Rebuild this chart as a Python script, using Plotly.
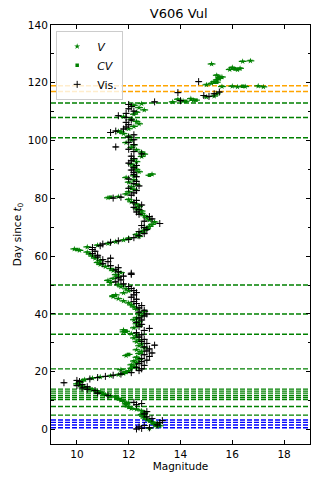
import plotly.graph_objects as go

# V band photometry (day since t0, magnitude)
v_day = [0.5, 1.0, 1.3, 1.8, 2.2, 2.6, 3.0, 3.5, 4.0, 4.6, 5.2, 5.8, 6.5, 7.0, 7.3, 7.8, 8.5, 9.3, 9.8,
         10.2, 10.7, 11.2, 11.6, 12.0, 12.4, 12.8, 13.3, 13.7, 14.2, 14.6, 15.0, 15.4, 15.8, 16.3, 16.8,
         17.3, 17.8, 18.2, 18.6, 19.0, 19.4, 19.9, 20.3, 20.7, 21.2, 21.8, 22.4, 23.0, 23.7, 24.3, 25.0,
         25.6, 26.3, 27.0, 27.6, 28.3, 29.0, 29.7, 30.4, 31.0, 31.7, 32.4, 33.2, 33.8, 34.5, 35.2, 35.9,
         36.6, 37.3, 38.0, 38.7, 39.4, 40.2, 40.9, 41.6, 42.4, 43.1, 43.8, 44.5, 45.3, 46.0, 46.6, 47.3,
         48.0, 48.7, 49.4, 50.2, 50.9, 51.6, 52.3, 53.0, 53.6, 54.3, 55.0, 55.7, 56.4, 57.1, 57.8, 58.5,
         59.3, 60.0, 60.7, 61.4, 62.0, 62.5, 63.2, 63.8, 64.4, 65.0, 65.6, 66.2, 66.8, 67.5, 68.2, 68.9,
         69.6, 70.3, 71.0, 71.8, 72.5, 73.3, 74.0, 74.8, 75.6, 76.4, 77.2, 78.0, 78.8, 79.6, 80.2, 80.6,
         81.5, 82.3, 83.1, 84.0, 84.8, 85.6, 86.4, 87.2, 87.8, 88.4, 89.2, 90.0, 90.9, 91.8, 92.7, 93.6,
         94.5, 95.3, 96.0, 96.8, 97.6, 98.5, 99.3, 100.2, 101.5, 102.4, 103.2, 104.1, 104.9, 105.8, 106.6,
         107.4, 108.3, 109.1, 109.8, 110.6, 111.4, 112.2, 112.8, 113.4, 113.7, 113.9, 114.3, 114.5, 115.1,
         115.4, 116.2, 118.7, 118.8, 118.6, 118.7, 118.9, 118.6, 119.3, 119.8, 120.4, 121.0, 121.5, 122.0,
         122.6, 124.6, 124.5, 125.3, 125.0, 126.5, 127.4, 127.6]
v_mag = [12.8, 13.1, 13.2, 13.0, 13.1, 12.9, 12.8, 12.7, 12.6, 12.55, 12.5, 12.6, 12.5, 12.3, 12.1, 12.0,
         11.9, 12.0, 11.8, 11.7, 11.6, 11.5, 11.3, 11.1, 11.0, 10.9, 10.8, 10.6, 10.5, 10.3, 10.2, 10.1,
         10.0, 10.1, 10.2, 10.3, 10.6, 10.9, 11.3, 11.6, 11.8, 11.9, 12.0, 11.7, 12.1, 12.2, 12.1, 12.3,
         12.2, 12.4, 12.3, 11.9, 12.4, 12.5, 12.3, 12.6, 12.4, 12.5, 12.3, 12.4, 12.2, 12.3, 12.1, 11.8,
         11.8, 12.2, 12.4, 12.3, 12.4, 12.2, 12.3, 12.5, 12.4, 12.6, 12.3, 12.2, 12.1, 12.0, 11.8, 11.6,
         11.4, 11.5, 11.8, 12.0, 11.9, 11.7, 11.6, 11.3, 11.2, 11.4, 11.6, 11.5, 11.7, 11.4, 11.3, 11.1,
         10.9, 10.8, 10.9, 10.7, 10.6, 10.5, 10.4, 10.1, 9.9, 10.4, 10.8, 11.2, 11.5, 11.8, 12.0, 12.4,
         12.3, 12.5, 12.6, 12.7, 12.8, 12.9, 13.0, 12.8, 12.7, 12.6, 12.5, 12.5, 12.3, 12.4, 12.3, 12.1,
         12.0, 11.2, 11.6, 11.9, 12.0, 12.2, 12.1, 12.3, 12.0, 12.2, 11.9, 12.2, 12.9, 12.4, 12.3, 12.2,
         12.1, 12.3, 12.2, 12.5, 12.6, 12.5, 12.3, 12.1, 12.2, 11.9, 12.1, 12.0, 11.8, 11.6, 12.0, 12.2,
         12.4, 12.3, 12.1, 11.8, 12.2, 12.3, 12.6, 12.4, 12.2, 12.5, 13.7, 14.1, 14.5, 13.9, 14.4, 15.0,
         15.3, 15.4, 15.6, 16.0, 16.2, 16.5, 17.0, 17.2, 15.0, 15.2, 15.3, 15.4, 15.5, 15.6, 15.4, 15.9,
         16.2, 16.0, 16.3, 15.2, 16.4, 16.7]

# CV (unfiltered) photometry
cv_day = [2.0, 5.5, 9.0, 13.0, 19.5, 26.0, 34.0, 46.3, 62.3, 80.4, 88.0, 103.0, 113.6, 114.0, 118.8,
          120.2, 121.8, 124.8]
cv_mag = [13.0, 12.6, 11.9, 10.8, 11.8, 12.0, 11.9, 11.4, 10.0, 11.3, 12.8, 11.7, 14.2, 14.6, 16.4,
          15.4, 15.5, 16.1]

# Visual estimates
vis_day = [0.2, 0.4, 0.6, 0.9, 1.4, 1.6, 2.4, 3.1, 3.8, 4.4, 5.4, 6.2, 8.6, 9.0, 9.4, 11.8, 12.6, 13.5,
           13.9, 14.4, 14.8, 15.2, 15.6, 16.2, 16.6, 17.0, 17.5, 18.0, 18.4, 18.8, 19.2, 19.7, 20.4, 21.0,
           21.5, 22.2, 22.8, 23.5, 24.0, 24.6, 25.3, 25.9, 26.5, 27.2, 27.9, 28.6, 29.2, 29.8, 30.5, 31.2,
           32.0, 32.8, 33.5, 34.3, 35.0, 35.7, 36.4, 37.1, 37.9, 38.6, 39.3, 40.0, 40.6, 41.3, 42.1, 42.9,
           43.6, 44.3, 45.1, 45.8, 46.6, 47.4, 48.1, 48.8, 49.5, 50.4, 51.1, 51.8, 52.5, 53.1, 53.7, 54.1,
           54.6, 55.3, 56.0, 56.7, 57.4, 58.1, 58.8, 59.3, 59.7, 60.3, 60.9, 61.7, 62.3, 63.0, 63.6, 64.2,
           64.8, 65.3, 65.8, 66.4, 67.1, 67.8, 68.5, 69.2, 69.9, 70.6, 71.3, 72.1, 72.9, 73.7, 74.5, 75.3,
           76.1, 76.9, 77.7, 78.5, 79.3, 80.1, 80.4, 81.1, 81.9, 82.7, 83.5, 84.3, 85.1, 85.9, 86.7, 87.5,
           88.3, 89.0, 89.8, 90.6, 91.4, 92.2, 93.0, 93.8, 94.6, 95.4, 96.2, 97.0, 97.8, 98.6, 99.4, 100.3,
           101.2, 102.0, 102.8, 103.3, 104.0, 104.7, 105.5, 106.3, 107.1, 108.0, 108.6, 109.4, 110.2, 111.0,
           111.8, 112.5, 113.4, 113.8, 115.3, 115.6, 116.2, 116.6, 116.8, 120.4]
vis_mag = [12.3, 12.5, 12.8, 12.4, 12.6, 13.1, 13.2, 13.3, 12.9, 12.7, 12.6, 12.7, 12.3, 12.5, 12.2, 11.2,
           10.8, 10.7, 10.4, 10.2, 10.4, 10.0, 10.2, 9.5, 10.1, 10.0, 10.5, 10.8, 11.1, 11.4, 11.7, 12.1,
           12.4, 12.5, 12.3, 12.6, 12.4, 12.5, 12.7, 12.5, 12.8, 12.6, 12.9, 12.7, 12.8, 12.6, 13.0, 12.7,
           12.5, 12.6, 12.4, 12.5, 12.3, 12.6, 12.8, 12.4, 12.5, 12.3, 12.5, 12.4, 12.6, 12.7, 12.4, 12.6,
           12.4, 12.5, 12.3, 12.2, 12.3, 12.1, 12.2, 12.3, 12.2, 12.1, 12.0, 11.8, 11.5, 11.7, 11.6, 11.8,
           12.1, 12.1, 11.6, 11.5, 11.6, 11.3, 11.0, 11.2, 11.0, 11.3, 10.8, 10.8, 10.6, 10.7, 10.6, 10.6,
           10.9, 11.0, 11.3, 11.6, 12.0, 12.2, 12.4, 12.6, 12.4, 12.7, 12.6, 12.5, 13.2, 12.6, 12.9, 12.8,
           12.4, 12.3, 12.4, 12.2, 12.5, 12.2, 12.3, 11.4, 11.7, 12.1, 12.2, 12.3, 12.0, 12.4, 12.2, 12.3,
           12.0, 12.3, 12.2, 12.2, 12.1, 12.2, 12.3, 12.0, 12.1, 12.2, 12.1, 12.5, 12.2, 12.0, 11.5, 12.2,
           12.0, 12.2, 12.0, 12.2, 11.3, 11.5, 11.8, 11.9, 12.0, 11.9, 12.1, 11.9, 11.6, 11.9, 12.2, 12.0,
           12.1, 12.0, 13.0, 14.0, 15.1, 14.9, 15.3, 13.9, 15.5, 14.7]

# epochs marked with dashed lines
orange_epochs = [117, 119]
green_epochs = [5, 8, 10.4, 11.1, 11.8, 12.6, 13.3, 14, 21, 33, 40, 50, 101, 108, 113]
blue_epochs = [0.6, 1.6, 2.5, 3.3]

fig = go.Figure()

for vals, color in [(blue_epochs, '#0000ff'), (green_epochs, '#008000'), (orange_epochs, '#ffa500')]:
    for d in vals:
        fig.add_hline(y=d, line=dict(color=color, width=1.4, dash='5px,2px'), layer='below')

fig.add_trace(go.Scatter(
    x=v_mag, y=v_day, mode='markers', name='<i>V</i>',
    marker=dict(symbol='star', size=4.5, color='#008000', line=dict(width=0)),
    error_x=dict(type='constant', value=0.15, color='#008000', thickness=1.2, width=0),
))
fig.add_trace(go.Scatter(
    x=cv_mag, y=cv_day, mode='markers', name='<i>CV</i>',
    marker=dict(symbol='square', size=3.5, color='#008000', line=dict(width=0)),
    error_x=dict(type='constant', value=0.15, color='#008000', thickness=1.2, width=0),
))
fig.add_trace(go.Scatter(
    x=vis_mag, y=vis_day, mode='markers', name='Vis.',
    marker=dict(symbol='cross-thin', size=5, color='black', line=dict(width=1, color='black')),
    error_x=dict(type='constant', value=0.1, color='black', thickness=1, width=0),
))

axis_font = dict(family='DejaVu Sans', size=10.5, color='black')

fig.update_layout(
    width=322,
    height=483,
    template='plotly_white',
    font=axis_font,
    title=dict(text='V606 Vul', x=0.555, xanchor='center', y=0.972, yref='container',
               yanchor='middle', font=dict(family='DejaVu Sans', size=13, color='black')),
    xaxis=dict(
        title=dict(text='Magnitude', font=axis_font, standoff=4),
        range=[9, 19], dtick=2, showgrid=False, zeroline=False, automargin=False,
        ticks='inside', ticklen=4, tickcolor='black', showline=True, linecolor='black',
        linewidth=1, mirror='allticks', tickfont=axis_font,
    ),
    yaxis=dict(
        title=dict(text='Day since <i>t</i><sub>0</sub>', font=axis_font, standoff=4),
        range=[-5, 140], dtick=20, showgrid=False, zeroline=False, automargin=False,
        ticks='inside', ticklen=4, tickcolor='black', showline=True, linecolor='black',
        linewidth=1, mirror='allticks', tickfont=axis_font,
        minor=dict(dtick=10, ticks='inside', ticklen=2.5, tickcolor='black'),
    ),
    legend=dict(
        x=0.02, y=0.986, xanchor='left', yanchor='top',
        bgcolor='rgba(255,255,255,0.8)', bordercolor='#cccccc', borderwidth=1,
        font=dict(family='DejaVu Sans', size=11, color='black'),
    ),
    margin=dict(l=51, r=12, t=25, b=39),
)

# the page body has a default 8px margin; drop it so the figure fills the window
fig.write_html("out.html", config={'displayModeBar': False},
               post_script="document.body.style.margin='0px';")
